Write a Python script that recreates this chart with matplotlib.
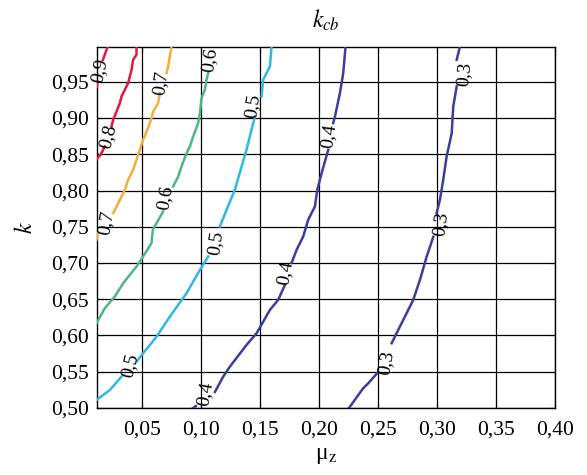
import numpy as np
import matplotlib
matplotlib.use("Agg")
import matplotlib.pyplot as plt
from matplotlib.ticker import FixedLocator, FuncFormatter

nan = np.nan

# contour lines of k_cb (NaN = gap for the inline label)
mu_09 = [0.012, 0.0125, nan, 0.017, 0.0195, 0.0212]
k_09 = [0.943, 0.950, nan, 0.980, 0.9916, 0.9985]

mu_08 = [0.0455, 0.0455, 0.0426, 0.0413, 0.0398, 0.0384, 0.0356, 0.0328, 0.0314,
         0.0286, 0.0257, 0.0243, nan, 0.0186, 0.0158, 0.0116]
k_08 = [0.9988, 0.9873, 0.9804, 0.9666, 0.9573, 0.9482, 0.939, 0.9297, 0.9206,
        0.909, 0.8976, 0.8883, nan, 0.8607, 0.8516, 0.8424]

mu_07 = [0.0752, 0.0737, 0.0723, 0.0709, nan, 0.0653, 0.0638, 0.0596, 0.0582, 0.0553,
         0.0511, 0.0483, 0.0455, 0.0426, 0.0384, 0.0356, 0.0328, 0.0286, 0.0257, nan,
         0.013, 0.0116]
k_07 = [0.9988, 0.985, 0.9712, 0.962, nan, 0.9344, 0.9206, 0.909, 0.8999, 0.8861,
        0.87, 0.8562, 0.8424, 0.8286, 0.8147, 0.8009, 0.7917, 0.7779, 0.7688, nan,
        0.7412, 0.7319]

mu_06 = [0.1062, 0.1048, 0.1034, 0.1006, 0.0992, 0.0977, 0.0935, 0.0907, 0.0879,
         0.0836, 0.0808, 0.0765, nan, 0.068, 0.0625, 0.0593, 0.0582, 0.0511, 0.0455,
         0.0398, 0.0342, 0.0271, 0.0186, 0.0116]
k_06 = [0.962, 0.9528, 0.939, 0.9276, 0.9068, 0.893, 0.8745, 0.8607, 0.8516,
        0.8331, 0.8193, 0.8055, nan, 0.771, 0.755, 0.7457, 0.7274, 0.7089, 0.6951,
        0.6836, 0.6721, 0.6536, 0.6376, 0.6169]

mu_05 = [0.1599, 0.1585, 0.1528, 0.1514, nan, 0.1458, 0.1415, 0.1387, 0.1345, 0.1288,
         0.1218, 0.1161, nan, 0.1062, 0.0992, 0.0879, 0.0737, 0.0625, 0.0511, 0.0455,
         nan, 0.0328, 0.0229, 0.0116]
k_05 = [0.9988, 0.9712, 0.9528, 0.9297, nan, 0.9021, 0.8745, 0.8562, 0.8331, 0.8009,
        0.7734, 0.7503, nan, 0.7089, 0.6905, 0.6583, 0.626, 0.5984, 0.5755, 0.5639,
        nan, 0.5432, 0.5248, 0.511]

mu_04 = [0.2226, 0.2206, 0.2178, 0.2136, 0.2121, nan, 0.2079, 0.2023, 0.1986, 0.1966,
         0.1909, 0.1867, 0.1811, 0.1769, nan, 0.1712, 0.1655, 0.1585, 0.1472, 0.1387,
         0.1246, 0.1189, 0.1119, nan, 0.0958, 0.0935]
k_04 = [0.9988, 0.962, 0.9344, 0.9021, 0.893, nan, 0.8562, 0.824, 0.8009, 0.7779,
        0.7595, 0.7365, 0.7181, 0.7002, nan, 0.6698, 0.6491, 0.6353, 0.6031, 0.587,
        0.557, 0.5432, 0.5221, nan, 0.5028, 0.5]

mu_03 = [0.3195, 0.3167, nan, 0.3167, 0.3138, 0.3125, 0.3082, 0.3053, 0.3025, 0.2997,
         nan, 0.2969, 0.2913, 0.2856, 0.2799, 0.2743, 0.2672, 0.2616, nan, 0.2503,
         0.2418, 0.2375, 0.2263, 0.2254]
k_03 = [0.9988, 0.9804, nan, 0.9435, 0.9159, 0.8792, 0.8469, 0.8147, 0.7871, 0.7688,
        nan, 0.7361, 0.7089, 0.6767, 0.6491, 0.6307, 0.6077, 0.5893, nan, 0.5497,
        0.5341, 0.5272, 0.5018, 0.5]

levels = ["0,9", "0,8", "0,7", "0,6", "0,5", "0,4", "0,3"]
lines_mu = [mu_09, mu_08, mu_07, mu_06, mu_05, mu_04, mu_03]
lines_k = [k_09, k_08, k_07, k_06, k_05, k_04, k_03]
colors = ["#E5173F", "#E5173F", "#F2AE3F", "#4FB584", "#2DB8E6", "#3A3F9C", "#3A3F9C"]

# inline labels: (level, mu, k, angle)
label_pos = [
    ("0,9", 0.0145, 0.966, 78),
    ("0,8", 0.0215, 0.874, 76),
    ("0,7", 0.0663, 0.949, 82),
    ("0,7", 0.0195, 0.756, 80),
    ("0,6", 0.1075, 0.980, 82),
    ("0,6", 0.0695, 0.790, 80),
    ("0,5", 0.1441, 0.916, 82),
    ("0,5", 0.1123, 0.727, 82),
    ("0,5", 0.0403, 0.558, 76),
    ("0,4", 0.2085, 0.876, 82),
    ("0,4", 0.1712, 0.687, 80),
    ("0,4", 0.1034, 0.520, 80),
    ("0,3", 0.3233, 0.960, 84),
    ("0,3", 0.3030, 0.754, 82),
    ("0,3", 0.2572, 0.562, 80),
]

x_ticks = [0.05, 0.10, 0.15, 0.20, 0.25, 0.30, 0.35, 0.40]
y_ticks = [0.50, 0.55, 0.60, 0.65, 0.70, 0.75, 0.80, 0.85, 0.90, 0.95]

plt.rcParams["font.family"] = ["Liberation Serif", "DejaVu Serif"]
plt.rcParams["mathtext.fontset"] = "stix"

fig = plt.figure(figsize=(5.87, 4.75), dpi=100)
ax = fig.add_axes([0.1652, 0.1411, 0.7803, 0.76])

for mu, k, c in zip(lines_mu, lines_k, colors):
    ax.plot(mu, k, color=c, linewidth=1.8, zorder=3)

for txt, x, y, ang in label_pos:
    ax.text(x, y, txt, fontsize=14, rotation=ang, rotation_mode="anchor",
            ha="center", va="center", zorder=4)

ax.set_xlim(0.012, 0.40)
ax.set_ylim(0.50, 0.998)
ax.xaxis.set_major_locator(FixedLocator(x_ticks))
ax.yaxis.set_major_locator(FixedLocator(y_ticks))
comma = FuncFormatter(lambda v, p: f"{v:.2f}".replace(".", ","))
ax.xaxis.set_major_formatter(comma)
ax.yaxis.set_major_formatter(comma)
ax.tick_params(labelsize=15.5, direction="in", length=4, top=True, right=True)
ax.tick_params(axis="x", pad=9)
ax.tick_params(axis="y", pad=6)
ax.grid(True, color="black", linewidth=0.9)
for s in ax.spines.values():
    s.set_linewidth(1.0)

ax.set_title(r"$k_{cb}$", fontsize=17, pad=14)
ax.set_xlabel("μ$_\\mathrm{z}$", fontsize=17, labelpad=4)
ax.set_ylabel(r"$k$", fontsize=17, labelpad=10)

fig.savefig("out.png", dpi=100)
